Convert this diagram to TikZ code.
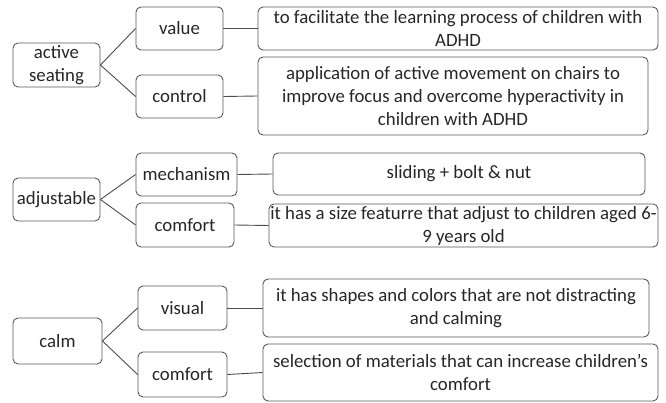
\documentclass[tikz,border=0pt]{standalone}
\usepackage{fontspec}
\setmainfont{Carlito}
\tikzstyle{box}=[draw=black!65,line width=0.9pt,rounded corners=5pt,inner sep=0pt,align=center,text=black!85,font=\fontsize{18.8}{23}\selectfont]
\tikzstyle{topic box} = [box]
\tikzstyle{aspect box} = [box]
\tikzstyle{detail box} = [box]
\tikzstyle{link} = [draw,black!70,line width=0.9pt]

\begin{document}
\begin{tikzpicture}[x=1pt, y=-1pt]
    \useasboundingbox (0,0) rectangle (666,403);
    % First the three topics
    \foreach \pos/\name/\w/\h/\txt in {{(56.5,65)/seat/87/44/active\\seating},
        {(56.5,199.5)/adjust/87/43/adjustable},{(57.5,341)/calm/89/46/calm}}
    \node[topic box, minimum width=\w pt, minimum height=\h pt] (\name) at \pos {\txt};
    % Second the aspects
    \foreach \pos/\name/\w/\h/\txt in {{(179.5,28.5)/value/87/43/value},
        {(179.5,96.5)/control/87/43/control},{(186.5,174.5)/mech/101/43/mechanism},
        {(185,225)/comfA/98/44/comfort},{(182.5,308)/visual/89/44/visual},
        {(182.5,374.5)/comfB/89/45/comfort}}
    \node[aspect box, minimum width=\w pt, minimum height=\h pt] (\name) at \pos {\txt};
    % Then the details
    \foreach \pos/\name/\w/\h/\txt in {
        {(458,28.5)/valueD/400/43/to facilitate the learning process of children with\\ADHD},
        {(453,96)/controlD/390/78/application of active movement on chairs to\\improve focus and overcome hyperactivity in\\children with ADHD},
        {(459,174)/mechD/372/42/sliding + bolt \& nut},
        {(463.5,225.5)/comfAD/389/43/it has a size featurre that adjust to children aged 6-\\9 years old},
        {(456,308)/visualD/386/58/it has shapes and colors that are not distracting\\and calming},
        {(460.5,372.5)/comfBD/395/57/selection of materials that can increase children’s\\comfort}}
    \node[detail box, minimum width=\w pt, minimum height=\h pt] (\name) at \pos {\txt};
    % Connectors
    \foreach \source/ \dest in {seat/value, seat/control, adjust/mech, adjust/comfA,
        calm/visual, calm/comfB}
    \path[link] (\source.east) -- (\dest.west);
    \foreach \source in {value, control, mech, comfA, visual, comfB}
    \path[link] (\source.east) -- (\source D.west);
\end{tikzpicture}
\end{document}
